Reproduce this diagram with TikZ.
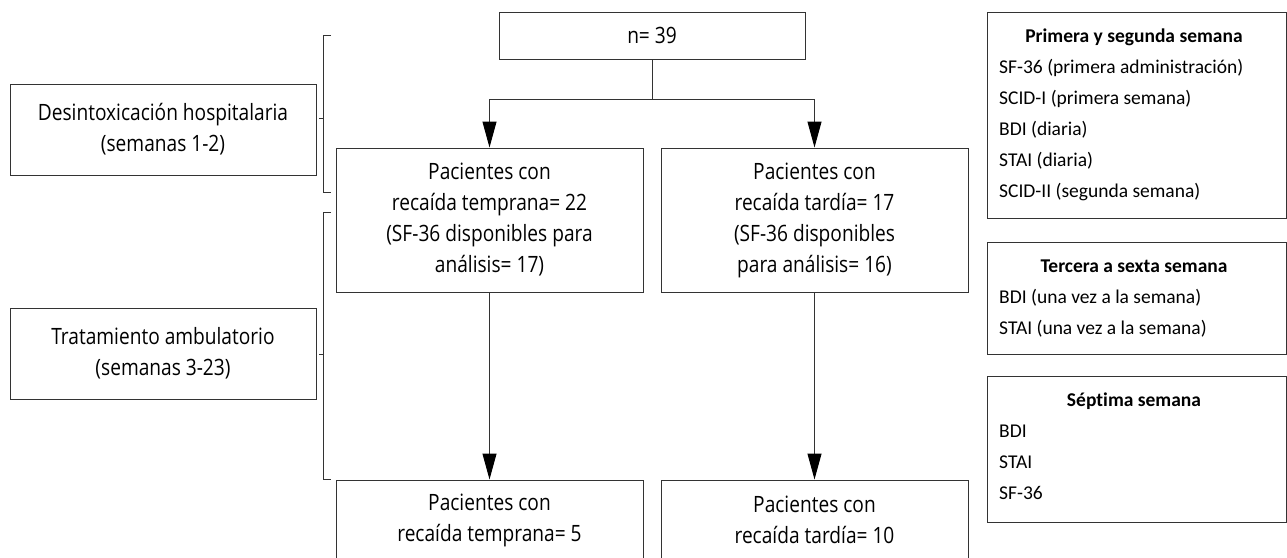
\documentclass[tikz,border=0pt]{standalone}
\usepackage{fontspec}
\setmainfont[FakeStretch=0.85]{Open Sans}
\newfontfamily\rfont[Ligatures=NoCommon]{Carlito}
\usetikzlibrary{arrows.meta}
\begin{document}
\begin{tikzpicture}[x=1pt,y=-1pt,
  box/.style={draw=black!80, line width=1pt, rectangle, inner sep=0pt, align=center,
    font=\fontsize{22.5}{31}\selectfont, text=black},
  conn/.style={draw=black!80, line width=1pt},
  arr/.style={conn, -{Triangle[length=26pt,width=14pt,color=black]}},
  brk/.style={draw=black!80, line width=1pt},
  rbox/.style={draw=black!80, line width=1pt, rectangle, inner sep=0pt, minimum width=299.5pt},
  rline/.style={anchor=base west, inner sep=0pt, text=black, font=\rfont\fontsize{19.5}{24}\selectfont},
  rtitle/.style={anchor=base, inner sep=0pt, text=black, font=\rfont\bfseries\fontsize{19.5}{24}\selectfont}]
\useasboundingbox (0,0) rectangle (1287,557);
\clip (0,0) rectangle (1287,557);

% main flow
\node[box, minimum width=306pt, minimum height=47pt] (n39) at (652,35.5) {n= 39};
\node[box, minimum width=307pt, minimum height=144pt] (mL) at (489.5,220)
  {Pacientes con\\recaída temprana= 22\\(SF-36 disponibles para\\análisis= 17)};
\node[box, minimum width=307pt, minimum height=144pt] (mR) at (814.5,220)
  {Pacientes con\\recaída tardía= 17\\(SF-36 disponibles\\para análisis= 16)};
\node[box, minimum width=307pt, minimum height=80pt] (bL) at (489.5,520)
  {Pacientes con\\recaída temprana= 5};
\node[box, minimum width=307pt, minimum height=80pt] (bR) at (814.5,520)
  {Pacientes con\\recaída tardía= 10};

\coordinate (j) at (652,99);
\draw[conn] (n39.south) -- (j);
\draw[arr] (j) -| (mL.north);
\draw[arr] (j) -| (mR.north);
\draw[arr] (mL.south) -- (bL.north);
\draw[arr] (mR.south) -- (bR.north);

% phase boxes
\node[box, minimum width=306pt, minimum height=91pt] (desin) at (163,129.5)
  {Desintoxicación hospitalaria\\(semanas 1-2)};
\node[box, minimum width=306pt, minimum height=91pt] (trat) at (163,353.5)
  {Tratamiento ambulatorio\\(semanas 3-23)};

% brackets
\coordinate (b1a) at (331,35);
\coordinate (b1b) at (331,192);
\coordinate (b1m) at (319,118);
\draw[brk] (b1a) -- (323,35) -- (323,192) -- (b1b);
\draw[brk] (323,118) -- (b1m);
\coordinate (b2a) at (331,212);
\coordinate (b2b) at (331,479);
\coordinate (b2m) at (319,354);
\draw[brk] (b2a) -- (323,212) -- (323,479) -- (b2b);
\draw[brk] (323,354) -- (b2m);

% right column
\node[rbox, minimum height=206pt] (r1) at (1136.75,115) {};
\node[rtitle] (r1t) at (1134,42.3) {Primera y segunda semana};
\node[rline] (r1a) at (999,73.3) {SF-36 (primera administración)};
\node[rline] (r1b) at (999,104.3) {SCID-I (primera semana)};
\node[rline] (r1c) at (999,135.3) {BDI (diaria)};
\node[rline] (r1d) at (999,166.3) {STAI (diaria)};
\node[rline] (r1e) at (999,197.3) {SCID-II (segunda semana)};

\node[rbox, minimum height=112pt] (r2) at (1136.75,298) {};
\node[rtitle] (r2t) at (1134,272.3) {Tercera a sexta semana};
\node[rline] (r2a) at (999,303.3) {BDI (una vez a la semana)};
\node[rline] (r2b) at (999,334.3) {STAI (una vez a la semana)};

\node[rbox, minimum height=146pt] (r3) at (1136.75,449) {};
\node[rtitle] (r3t) at (1134,406.3) {Séptima semana};
\node[rline] (r3a) at (999,437.3) {BDI};
\node[rline] (r3b) at (999,468.3) {STAI};
\node[rline] (r3c) at (999,499.3) {SF-36};
\end{tikzpicture}
\end{document}
